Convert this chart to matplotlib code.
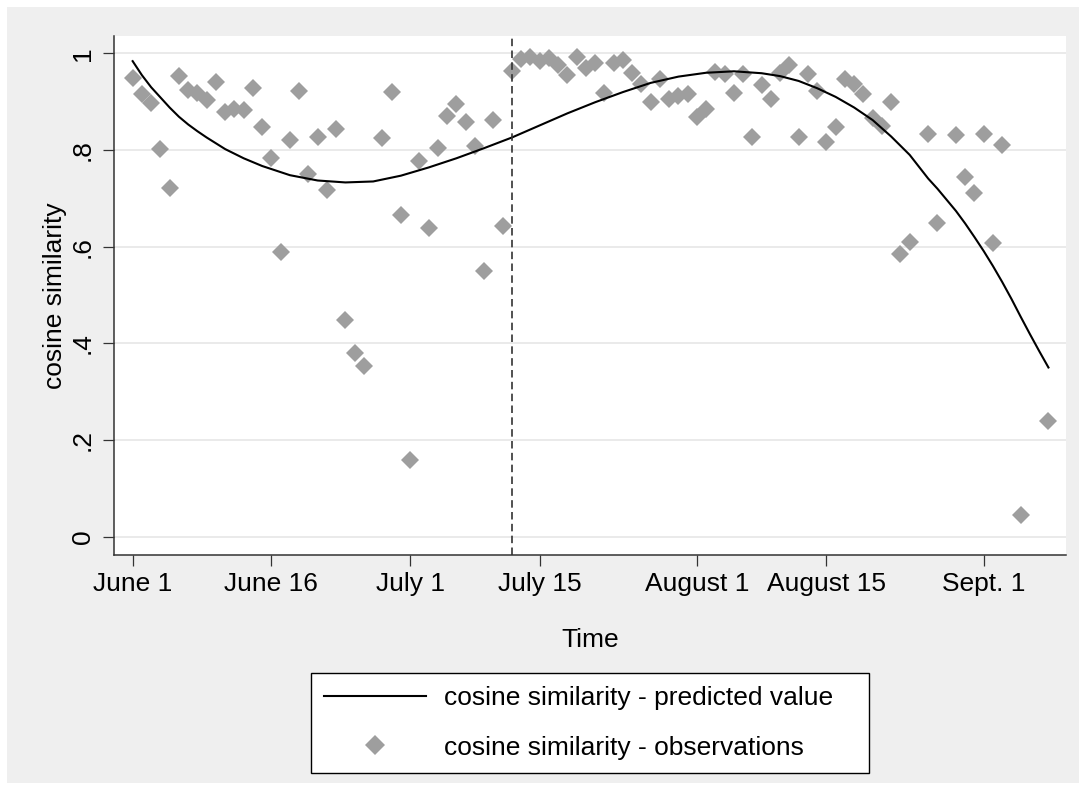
import matplotlib
matplotlib.use("Agg")
import matplotlib.pyplot as plt
from matplotlib.patches import Rectangle

plt.rcParams['font.family'] = ['Liberation Sans', 'DejaVu Sans']

# days counted from June 1
obs_day = [0, 1, 2, 3, 4, 5, 6, 7, 8, 9, 10, 11, 12, 13, 14, 15, 16, 17, 18, 19,
           20, 21, 22, 23, 24, 25, 27, 28, 29, 30, 31, 32, 33, 34, 35, 36, 37, 38,
           39, 40, 41, 42, 43, 44, 45, 46, 47, 48, 49, 50, 51, 52, 53, 54, 55, 56,
           57, 58, 59, 60, 61, 62, 63, 64, 65, 66, 67, 68, 69, 70, 71, 72, 73, 74,
           75, 76, 77, 78, 79, 80, 81, 82, 83, 84, 86, 87, 89, 90, 91, 92, 93, 94,
           96, 99]
obs_val = [0.950, 0.916, 0.898, 0.803, 0.721, 0.953, 0.924, 0.919, 0.903, 0.940,
           0.878, 0.885, 0.883, 0.928, 0.848, 0.783, 0.588, 0.821, 0.922, 0.751,
           0.826, 0.717, 0.843, 0.448, 0.379, 0.354, 0.824, 0.920, 0.665, 0.159,
           0.778, 0.638, 0.805, 0.871, 0.896, 0.858, 0.809, 0.550, 0.862, 0.643,
           0.964, 0.988, 0.993, 0.984, 0.991, 0.977, 0.956, 0.993, 0.969, 0.980,
           0.919, 0.981, 0.986, 0.960, 0.937, 0.900, 0.948, 0.905, 0.912, 0.917,
           0.869, 0.885, 0.962, 0.957, 0.919, 0.958, 0.826, 0.935, 0.905, 0.960,
           0.977, 0.826, 0.957, 0.922, 0.817, 0.847, 0.948, 0.936, 0.916, 0.867,
           0.850, 0.900, 0.585, 0.610, 0.834, 0.650, 0.831, 0.745, 0.712, 0.834,
           0.607, 0.811, 0.045, 0.240]

pred_day = [0, 1, 2, 3, 4, 5, 6, 7, 8, 10, 12, 14, 17, 20, 23, 26, 29, 32, 35,
            38, 41, 44, 47, 50, 53, 56, 59, 62, 65, 68, 70, 72, 74, 76, 78, 80,
            82, 84, 86, 87, 88, 89, 90, 91, 92, 93, 94, 95, 96, 97, 98, 99]
pred_val = [0.984, 0.955, 0.930, 0.909, 0.888, 0.869, 0.853, 0.839, 0.826, 0.802,
            0.783, 0.767, 0.748, 0.737, 0.733, 0.735, 0.747, 0.764, 0.783, 0.804,
            0.826, 0.851, 0.876, 0.899, 0.920, 0.939, 0.952, 0.960, 0.963, 0.959,
            0.953, 0.943, 0.928, 0.910, 0.888, 0.862, 0.828, 0.790, 0.741, 0.720,
            0.697, 0.674, 0.648, 0.620, 0.591, 0.560, 0.527, 0.492, 0.455, 0.419,
            0.384, 0.350]

break_day = 41  # July 12

tick_days = [0, 15, 30, 44, 61, 75, 92]
tick_labels = ['June 1', 'June 16', 'July 1', 'July 15', 'August 1', 'August 15', 'Sept. 1']
y_ticks = [0, 0.2, 0.4, 0.6, 0.8, 1.0]
y_labels = ['0', '.2', '.4', '.6', '.8', '1']

fig = plt.figure(figsize=(10.86, 7.9), dpi=100, facecolor='white')
fig.patches.append(Rectangle((7 / 1086, 7 / 790), 1072 / 1086, 776 / 790,
                             transform=fig.transFigure, facecolor='#efefef',
                             edgecolor='none', zorder=-10))

ax = fig.add_axes([0.1052, 0.2975, 0.8764, 0.6569])
ax.set_facecolor('white')

ax.plot(pred_day, pred_val, color='black', lw=1.5, zorder=4,
        label='cosine similarity - predicted value')
ax.plot(obs_day, obs_val, linestyle='none', marker='D', markersize=9.5,
        color='#9e9e9e', markeredgewidth=0, zorder=3,
        label='cosine similarity - observations')
ax.axvline(break_day, color='#333333', lw=1.2, linestyle=(0, (4.5, 2.6)), zorder=5)

ax.set_xlim(-1.99, 100.9)
ax.set_ylim(-0.038, 1.036)
ax.set_xticks(tick_days)
ax.set_xticklabels(tick_labels)
ax.set_yticks(y_ticks)
ax.set_yticklabels(y_labels, rotation=90, va='center')

ax.grid(axis='y', color='#e8e8e8', lw=1.3)
ax.set_axisbelow(True)
for side in ['top', 'right']:
    ax.spines[side].set_visible(False)
for side in ['left', 'bottom']:
    ax.spines[side].set_color('#333333')
    ax.spines[side].set_linewidth(1.1)

ax.tick_params(axis='both', direction='out', length=8, width=0.9,
               color='#333333', labelsize=19)
ax.tick_params(axis='x', pad=4)
ax.tick_params(axis='y', pad=6)

ax.set_xlabel('Time', fontsize=19)
ax.set_ylabel('cosine similarity', fontsize=19)
ax.xaxis.set_label_coords(0.5, -0.141)
ax.yaxis.set_label_coords(-0.05, 0.5)

# legend box spans a fixed width below the plot
leg = fig.legend(loc='center', bbox_to_anchor=(311 / 1086, 0.0848, 558 / 1086, 0),
                 mode='expand', fontsize=19, frameon=True, fancybox=False,
                 handlelength=3.86, handletextpad=0.67, borderpad=0.5,
                 labelspacing=0.95, borderaxespad=0, markerscale=1.1)
leg.get_frame().set_edgecolor('black')
leg.get_frame().set_linewidth(1.0)
leg.get_frame().set_facecolor('white')
leg.get_frame().set_alpha(1)

fig.savefig('out.png', dpi=100, facecolor=fig.get_facecolor())
